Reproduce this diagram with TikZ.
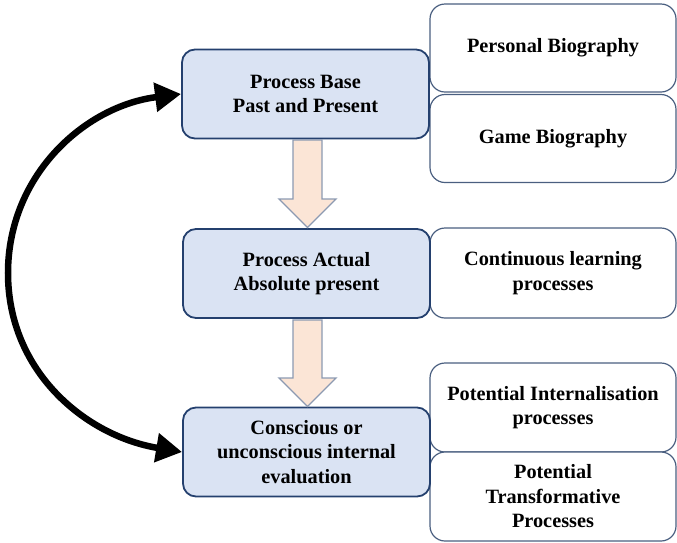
\documentclass[tikz,border=0pt]{standalone}
\usepackage{fontspec}
\setmainfont{Liberation Serif}
\usetikzlibrary{arrows.meta}
\definecolor{mainfill}{HTML}{DAE3F3}
\definecolor{mainline}{HTML}{24406E}
\definecolor{sideline}{HTML}{4A5F80}
\definecolor{arrfill}{HTML}{FBE5D6}
\definecolor{arrline}{HTML}{8C9AB2}
\tikzset{
  mainbox/.style={draw=mainline, fill=mainfill, line width=1.8pt, rounded corners=13pt,
    minimum width=247pt, minimum height=89pt, align=center, inner sep=0pt,
    font=\fontsize{20.3pt}{24.5pt}\selectfont\bfseries},
  sidebox/.style={draw=sideline, fill=white, line width=1.2pt, rounded corners=15pt,
    minimum width=246pt, minimum height=88pt, align=center, inner sep=0pt,
    font=\fontsize{20.3pt}{24.5pt}\selectfont\bfseries},
  blockarrow/.style={draw=arrline, fill=arrfill, line width=1.3pt, line join=miter},
  loop/.style={line width=6.5pt, draw=black,
    {Triangle[length=26pt,width=28pt]}-{Triangle[length=26pt,width=28pt]}}
}
\begin{document}
\begin{tikzpicture}[x=1pt,y=-1pt]
\useasboundingbox (0,0) rectangle (677,542);
% side boxes
\node[sidebox] (pb) at (553,48) {Personal Biography};
\node[sidebox] (gb) at (553,138.5) {Game Biography};
\node[sidebox, minimum height=90pt] (cl) at (553,273) {Continuous learning\\processes};
\node[sidebox, minimum height=89pt] (pi) at (553,407.5) {Potential Internalisation\\processes};
\node[sidebox, minimum height=89pt] (pt) at (553,496.5) {Potential\\Transformative\\Processes};
% main boxes
\node[mainbox] (b1) at (305.5,94) {Process Base\\Past and Present};
\node[mainbox] (b2) at (306.5,273.5) {Process Actual\\Absolute present};
\node[mainbox] (b3) at (306.5,452) {Conscious or\\unconscious internal\\evaluation};
% block arrows
\draw[blockarrow] (293,140) -- (322,140) -- (322,199) -- (336,199) -- (307.5,227.5)
  -- (279,199) -- (293,199) -- cycle;
\draw[blockarrow] (293,320) -- (322,320) -- (322,378) -- (336,378) -- (307.5,406.5)
  -- (279,378) -- (293,378) -- cycle;
% loop arrow
\coordinate (lm) at (8,273);
\draw[loop] (b3.west) .. controls (86,436) and (8,372) .. (lm)
  .. controls (8,175) and (85,106) .. (b1.west);
\end{tikzpicture}
\end{document}
